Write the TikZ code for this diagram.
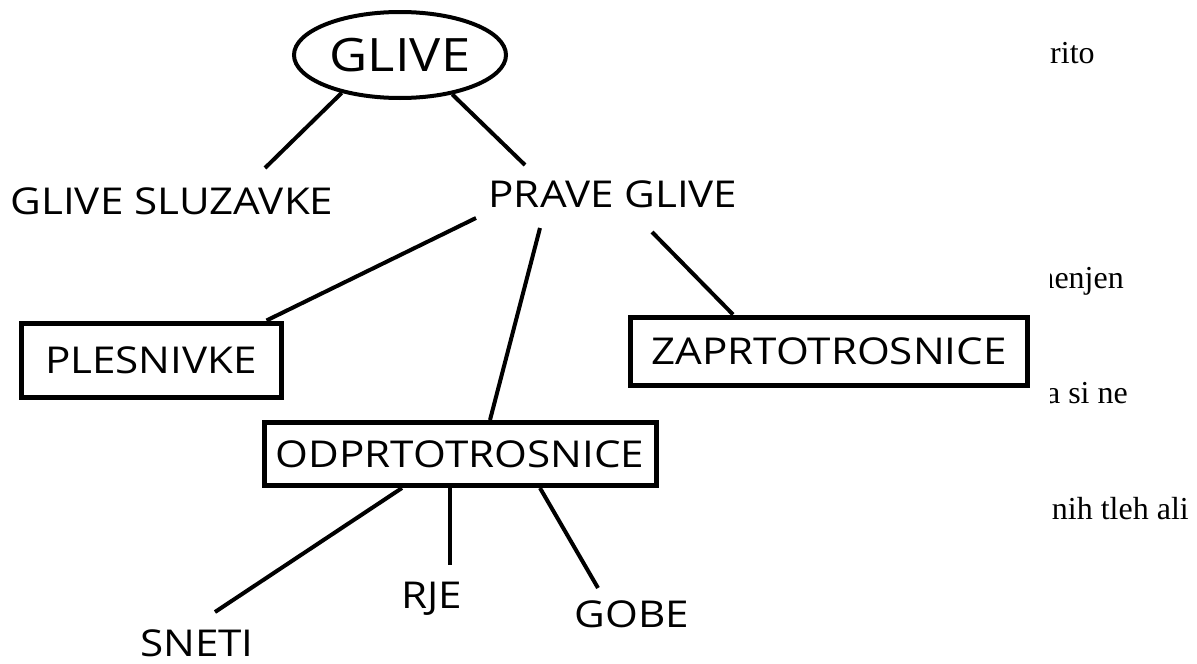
\documentclass[tikz,border=0pt]{standalone}
\usepackage{fontspec}
\setmainfont{Liberation Serif}
\newfontfamily\hand[FakeStretch=1.14]{Open Sans}
\usetikzlibrary{shapes.geometric}
\begin{document}
\begin{tikzpicture}[x=1pt,y=-1pt,
  lbl/.style={font=\hand\fontsize{37}{40}\selectfont, inner sep=0pt},
  boxed/.style={lbl, draw, line width=5pt},
  link/.style={line width=4pt},
  prose/.style={font=\fontsize{32}{38}\selectfont, inner sep=0pt}]
\useasboundingbox (0,0) rectangle (1197,664);

% classification tree
\node[draw, ellipse, line width=4pt, inner sep=0pt,
      minimum width=212pt, minimum height=86pt,
      font=\hand\fontsize{46}{50}\selectfont] (glive) at (400,55) {GLIVE};
\node[lbl] (sluz)  at (172,201) {GLIVE SLUZAVKE};
\node[lbl] (prave) at (613,194) {PRAVE GLIVE};
\node[boxed, minimum width=260pt, minimum height=74pt] (plesn) at (151,360) {PLESNIVKE};
\node[boxed, minimum width=397pt, minimum height=68pt] (zaprt) at (829,351) {ZAPRTOTROSNICE};
\node[boxed, minimum width=392pt, minimum height=63pt] (odprt) at (460,454) {ODPRTOTROSNICE};
\node[lbl] (sneti) at (197,643) {SNETI};
\node[lbl] (rje)   at (432,599) {RJE};
\node[lbl] (gobe)  at (632,614) {GOBE};

% free ends of the branches, just short of the plain labels
\coordinate (sluz-in)  at (265,168);
\coordinate (prave-in) at (525,165);
\coordinate (prave-l)  at (476,218);
\coordinate (prave-m)  at (540,228);
\coordinate (prave-r)  at (652,232);
\coordinate (sneti-in) at (215,612);
\coordinate (rje-in)   at (450,565);
\coordinate (gobe-in)  at (598,588);

\draw[link] (glive.213) -- (sluz-in);
\draw[link] (glive.323) -- (prave-in);
\draw[link] (prave-l) -- ([xshift=-17pt]plesn.north east);
\draw[link] (prave-m) -- ([xshift=30pt]odprt.north);
\draw[link] (prave-r) -- ([xshift=-96pt]zaprt.north);
\draw[link] ([xshift=-58pt]odprt.south) -- (sneti-in);
\draw[link] ([xshift=-10pt]odprt.south) -- (rje-in);
\draw[link] ([xshift=80pt]odprt.south) -- (gobe-in);

% running text at the right margin, partly hidden behind the tree
\begin{scope}
  \clip (1050,0) rectangle (1197,664);
  \node[prose, anchor=base west] (t1) at (1050,63)  {rito};
  \node[prose, anchor=base east] (t2) at (1124,288) {menjen};
  \node[prose, anchor=base east] (t3) at (1128,403) {a si ne};
  \node[prose, anchor=base east] (t4) at (1189,519) {jnih tleh ali};
\end{scope}
\end{tikzpicture}
\end{document}
